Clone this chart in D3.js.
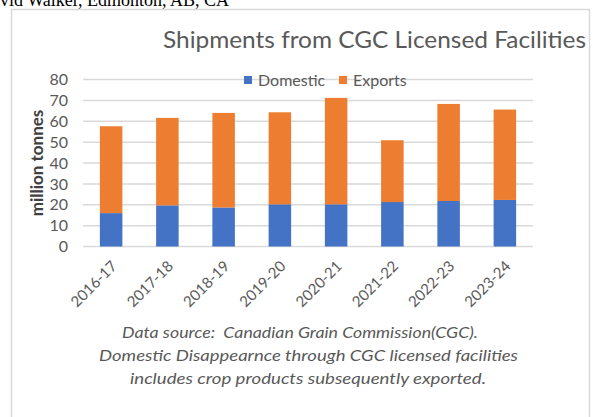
<!DOCTYPE html>
<html>
<head>
<meta charset="utf-8">
<script src="https://cdn.jsdelivr.net/npm/d3@7"></script>
<style>
  body { margin: 0; background: #fff; }
  svg { display: block; }
  .tick-label { font-family: Lato, sans-serif; fill: #595959; }
</style>
</head>
<body>
<div id="chart"></div>
<script>
// data (million tonnes)
const seasons = ["2016-17", "2017-18", "2018-19", "2019-20", "2020-21", "2021-22", "2022-23", "2023-24"];
const domestic = [16.0, 19.7, 18.7, 20.2, 20.2, 21.3, 21.8, 22.3];
const exports = [41.6, 41.9, 45.3, 44.1, 51.0, 29.6, 46.5, 43.3];
const yTicks = [0, 10, 20, 30, 40, 50, 60, 70, 80];
const seriesNames = ["Domestic", "Exports"];
const seriesColors = ["#4472C4", "#ED7D31"];
const footnote = [
  "Data source:  Canadian Grain Commission(CGC).",
  "Domestic Disappearnce through CGC licensed facilities",
  "includes crop products subsequently exported."
];

const width = 593, height = 417;
const margin = {left: 83, right: 60, top: 80, bottom: 170};

const svg = d3.select("#chart").append("svg")
  .attr("width", width)
  .attr("height", height);

// text cut off above the chart frame
svg.append("text")
  .attr("x", 229)
  .attr("y", 6)
  .attr("text-anchor", "end")
  .attr("font-family", "Liberation Serif, Times New Roman, serif")
  .attr("font-size", 18)
  .attr("fill", "#000")
  .text("David Walker, Edmonton, AB, CA");

// chart frame
svg.append("rect")
  .attr("x", 11.5).attr("y", 9.5)
  .attr("width", 578).attr("height", 430)
  .attr("fill", "#fff")
  .attr("stroke", "#d9d9d9")
  .attr("stroke-width", 1.5);

svg.append("text")
  .attr("x", 374.5)
  .attr("y", 48)
  .attr("text-anchor", "middle")
  .attr("font-family", "Lato, sans-serif")
  .attr("font-size", 23)
  .attr("fill", "#595959")
  .attr("textLength", 423)
  .attr("lengthAdjust", "spacingAndGlyphs")
  .text("Shipments from CGC Licensed Facilities");

const xScale = d3.scaleBand()
  .domain(seasons)
  .range([margin.left, width - margin.right])
  .paddingInner(0.6)
  .paddingOuter(0.3);

const yScale = d3.scaleLinear()
  .domain([0, 80])
  .range([246.5, 79.5]);

// gridlines
svg.append("g")
  .selectAll("line")
  .data(yTicks)
  .join("line")
  .attr("x1", margin.left)
  .attr("x2", width - margin.right)
  .attr("y1", d => yScale(d))
  .attr("y2", d => yScale(d))
  .attr("stroke", "#d9d9d9")
  .attr("stroke-width", 1.5);

// y axis labels
const yAxis = d3.axisLeft(yScale)
  .tickValues(yTicks)
  .tickSize(0)
  .tickPadding(15);

svg.append("g")
  .attr("transform", `translate(${margin.left},0)`)
  .call(yAxis)
  .call(g => g.select(".domain").remove())
  .selectAll("text")
  .attr("class", "tick-label")
  .attr("font-size", 16);

svg.append("text")
  .attr("transform", "translate(36,163) rotate(-90)")
  .attr("text-anchor", "middle")
  .attr("dominant-baseline", "central")
  .attr("font-family", "Lato, sans-serif")
  .attr("font-weight", "bold")
  .attr("font-size", 17)
  .attr("fill", "#404040")
  .text("million tonnes");

// stacked bars
const rows = seasons.map((s, i) => ({season: s, Domestic: domestic[i], Exports: exports[i]}));
const stacked = d3.stack().keys(seriesNames)(rows);

svg.append("g")
  .selectAll("g")
  .data(stacked)
  .join("g")
  .attr("fill", (d, i) => seriesColors[i])
  .selectAll("rect")
  .data(d => d)
  .join("rect")
  .attr("x", d => xScale(d.data.season))
  .attr("width", xScale.bandwidth())
  .attr("y", d => yScale(d[1]))
  .attr("height", d => yScale(d[0]) - yScale(d[1]));

// x axis labels, rotated
const xAxis = d3.axisBottom(xScale).tickSize(0).tickPadding(0);
svg.append("g")
  .attr("transform", "translate(0,246.5)")
  .call(xAxis)
  .call(g => g.select(".domain").remove())
  .selectAll("text")
  .attr("class", "tick-label")
  .attr("font-size", 15)
  .attr("text-anchor", "end")
  .attr("dy", "0.35em")
  .attr("transform", "translate(3,17) rotate(-45)");

// legend
const legendX = [244, 339];
const legend = svg.append("g")
  .selectAll("g")
  .data(seriesNames)
  .join("g")
  .attr("transform", (d, i) => `translate(${legendX[i]},76)`);

legend.append("rect")
  .attr("width", 8).attr("height", 8)
  .attr("fill", (d, i) => seriesColors[i]);

legend.append("text")
  .attr("x", 14)
  .attr("y", 9.5)
  .attr("font-family", "Lato, sans-serif")
  .attr("font-size", 16)
  .attr("fill", "#595959")
  .text(d => d);

// footnote
const noteX = [122, 99, 130];
const noteW = [356, 419, 356];
svg.append("g")
  .selectAll("text")
  .data(footnote)
  .join("text")
  .attr("x", (d, i) => noteX[i])
  .attr("y", (d, i) => 338 + i * 23)
  .attr("font-family", "Lato, sans-serif")
  .attr("font-style", "italic")
  .attr("font-size", 16)
  .attr("fill", "#595959")
  .style("white-space", "pre")
  .attr("textLength", (d, i) => noteW[i])
  .attr("lengthAdjust", "spacingAndGlyphs")
  .text(d => d);
</script>
</body>
</html>
